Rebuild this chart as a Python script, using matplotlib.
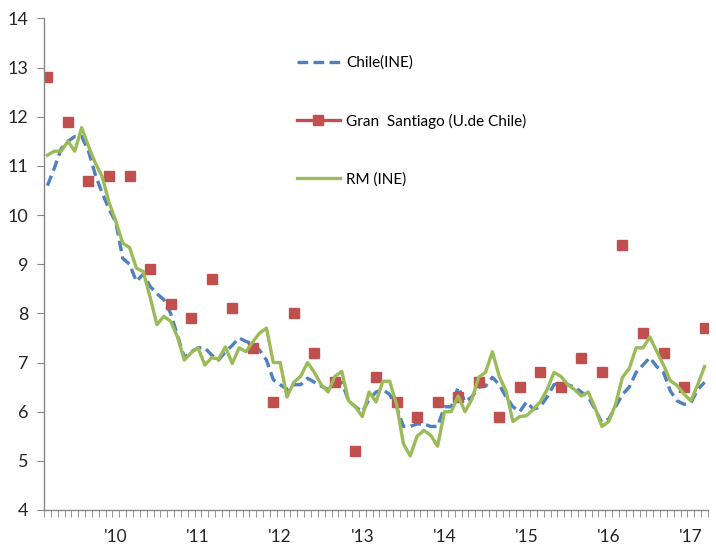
import numpy as np
import matplotlib
matplotlib.use("Agg")
import matplotlib.pyplot as plt
from matplotlib.ticker import FixedLocator, NullFormatter

plt.rcParams['font.family'] = ['Lato', 'DejaVu Sans']

# monthly series, Mar-2009 .. Mar-2017 (97 months)
chile_ine = [10.6, 10.95, 11.35, 11.5, 11.6, 11.6, 11.3, 10.82, 10.45, 10.12,
             9.85, 9.12, 9.0, 8.65, 8.8, 8.55, 8.4, 8.28, 8.0, 7.55,
             7.1, 7.22, 7.3, 7.3, 7.15, 7.05, 7.22, 7.35, 7.5, 7.43,
             7.38, 7.25, 7.05, 6.65, 6.55, 6.45, 6.55, 6.55, 6.68, 6.6,
             6.52, 6.45, 6.55, 6.6, 6.22, 6.1, 6.0, 6.25, 6.4, 6.45,
             6.35, 6.1, 5.7, 5.7, 5.75, 5.75, 5.7, 5.7, 6.1, 6.1,
             6.5, 6.2, 6.3, 6.5, 6.52, 6.7, 6.55, 6.3, 6.1, 6.0,
             6.2, 6.05, 6.1, 6.3, 6.55, 6.6, 6.55, 6.5, 6.4, 6.3,
             6.05, 5.78, 5.85, 6.1, 6.35, 6.5, 6.8, 6.95, 7.1, 6.92,
             6.8, 6.42, 6.22, 6.15, 6.18, 6.45, 6.6]

rm_ine = [11.22, 11.3, 11.3, 11.5, 11.3, 11.78, 11.4, 11.06, 10.78, 10.26,
          9.87, 9.43, 9.34, 8.92, 8.85, 8.33, 7.77, 7.94, 7.84, 7.52,
          7.05, 7.2, 7.3, 6.95, 7.1, 7.07, 7.32, 6.98, 7.3, 7.22,
          7.42, 7.6, 7.7, 7.0, 7.0, 6.3, 6.6, 6.72, 7.0, 6.8,
          6.55, 6.4, 6.72, 6.82, 6.22, 6.1, 5.9, 6.4, 6.2, 6.62,
          6.62, 6.15, 5.35, 5.1, 5.5, 5.62, 5.52, 5.3, 6.0, 6.0,
          6.32, 6.0, 6.25, 6.7, 6.8, 7.22, 6.72, 6.42, 5.8, 5.9,
          5.92, 6.05, 6.2, 6.45, 6.8, 6.72, 6.55, 6.45, 6.32, 6.4,
          6.08, 5.7, 5.8, 6.15, 6.7, 6.88, 7.3, 7.3, 7.52, 7.23,
          6.95, 6.63, 6.53, 6.36, 6.22, 6.55, 6.92]

# quarterly survey (Mar, Jun, Sep, Dec)
gran_stgo = [12.8, 11.9, 10.7, 10.8, 10.8, 8.9, 8.2, 7.9, 8.7, 8.1,
             7.3, 6.2, 8.0, 7.2, 6.6, 5.2, 6.7, 6.2, 5.9, 6.2,
             6.3, 6.6, 5.9, 6.5, 6.8, 6.5, 7.1, 6.8, 9.4, 7.6,
             7.2, 6.5, 7.7]

year_labels = ["'10", "'11", "'12", "'13", "'14", "'15", "'16", "'17"]
year_pos = [10, 22, 34, 46, 58, 70, 82, 94]

n = len(chile_ine)
x = np.arange(n)
gs_monthly = np.full(n, np.nan)
gs_monthly[::3] = gran_stgo

fig = plt.figure(figsize=(7.16, 5.44), dpi=100)
ax = fig.add_axes([44/716, 1-510/544, 664/716, 491.5/544])

ax.plot(x, chile_ine, color='#4F81BD', lw=2.4, ls=(0, (3.2, 1.6)), label='Chile(INE)')
ax.plot(x, gs_monthly, color='#C0504D', lw=2.4, marker='s', ms=6.5,
        label='Gran  Santiago (U.de Chile)')
ax.plot(x, rm_ine, color='#9BBB59', lw=2.4, label='RM (INE)')

ax.set_ylim(4, 14)
ax.set_yticks(range(4, 15))
ax.set_xlim(-0.5, n - 0.5)
ax.xaxis.set_major_locator(FixedLocator(year_pos))
ax.set_xticklabels(year_labels)
ax.xaxis.set_minor_locator(FixedLocator(np.arange(-0.5, n, 1.0)))
ax.xaxis.set_minor_formatter(NullFormatter())

for s in ['top', 'right']:
    ax.spines[s].set_visible(False)
for s in ['left', 'bottom']:
    ax.spines[s].set_color('#868686')
    ax.spines[s].set_linewidth(1.0)

ax.tick_params(axis='y', length=5, color='#868686', labelsize=13, pad=6, labelcolor='#262626')
ax.tick_params(axis='x', which='major', length=0, labelsize=12.5, pad=14, labelcolor='#262626')
ax.tick_params(axis='x', which='minor', length=5, color='#868686')

ax.legend(loc='upper left', bbox_to_anchor=(0.381, 0.924), frameon=False,
          fontsize=11, handlelength=2.8, handletextpad=0.4, labelspacing=2.85,
          borderpad=0, borderaxespad=0)

fig.savefig('out.png', dpi=100)
